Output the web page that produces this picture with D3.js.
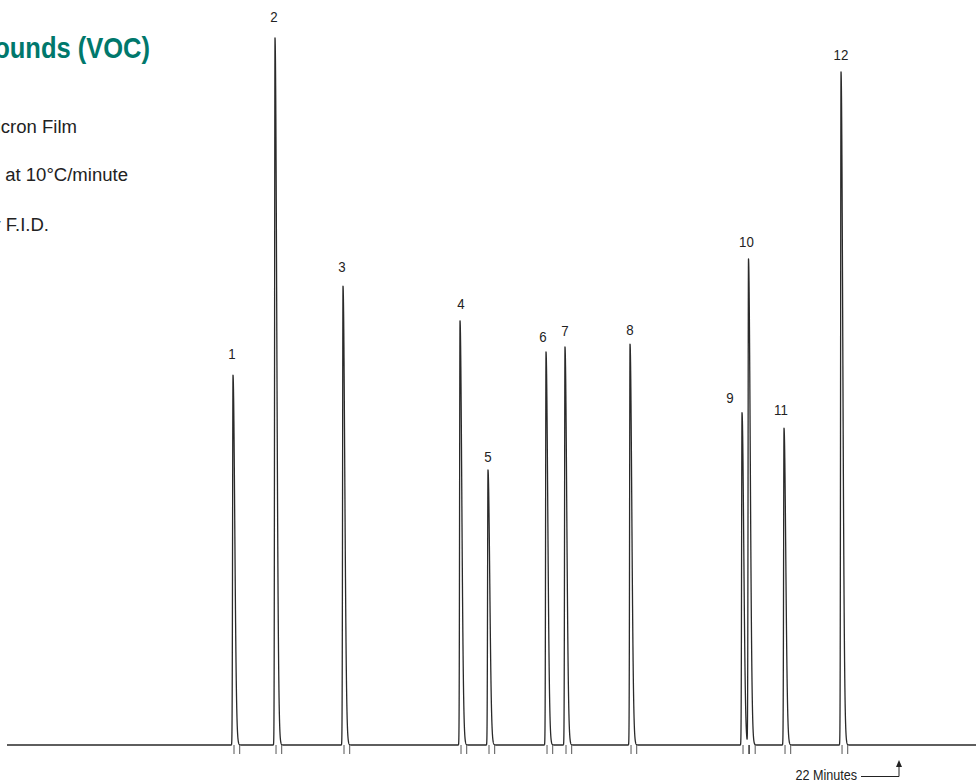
<!DOCTYPE html>
<html>
<head>
<meta charset="utf-8">
<script src="https://cdn.jsdelivr.net/npm/d3@7"></script>
<style>
  html, body { margin: 0; padding: 0; background: #fff; }
  svg { display: block; }
  .narrow { font-family: "Liberation Sans Narrow", "Arial Narrow", "Liberation Sans", Arial, sans-serif; }
</style>
</head>
<body>
<svg id="chart" width="976" height="783"></svg>
<script>
// ---- data ----
const peakNumbers    = ["1","2","3","4","5","6","7","8","9","10","11","12"];
const retentionTimes = [5.574, 6.610, 8.287, 11.173, 11.863, 13.294, 13.762, 15.366, 18.128, 18.288, 19.164, 20.570]; // minutes
const peakHeights    = [52.3, 100, 64.9, 60.0, 38.9, 55.6, 56.3, 56.7, 47.0, 68.7, 44.8, 95.2];             // relative response
const timeMarker     = 22;            // "22 Minutes" arrow
const runEnd         = 24;
const titleText      = "Volatile Organic Compounds (VOC)";
const conditionLines = ["0.53mm ID x 30 Meter, 1.0 Micron Film", "35°C (5 min.) to 220°C at 10°C/minute", "Helium Carrier F.I.D."];

// ---- layout ----
const svg = d3.select("#chart");
const x = d3.scaleLinear().domain([0, timeMarker]).range([7, 899]);
const y = d3.scaleLinear().domain([0, 100]).range([745, 38]);

// helper: horizontally condensed text
function ctext(px, py, str, opts) {
  const g = svg.append("g").attr("transform", `translate(${px},${py}) scale(${opts.sx || 1},1)`);
  return g.append("text")
    .attr("class", "narrow")
    .attr("x", 0).attr("y", 0)
    .attr("text-anchor", opts.anchor || "start")
    .attr("font-size", opts.size)
    .attr("font-weight", opts.weight || "normal")
    .attr("fill", opts.fill || "#222")
    .text(str);
}

// peak shape model (asymmetric gaussian, narrow leading edge, slight tail)
const sigL = 0.010, sigR = 0.043;
function signal(t) {
  let s = 0;
  for (let i = 0; i < retentionTimes.length; i++) {
    const d = t - retentionTimes[i];
    const sg = d < 0 ? sigL : sigR;
    if (Math.abs(d) < 12 * sg) s += peakHeights[i] * Math.exp(-0.5 * (d / sg) * (d / sg));
  }
  return s;
}
let ts = d3.range(0, runEnd + 0.001, 0.05);
retentionTimes.forEach(rt => { ts = ts.concat(d3.range(rt - 0.08, rt + 0.4, 0.0015)); ts.push(rt); });
ts = ts.filter(t => t >= 0 && t <= runEnd).sort((a, b) => a - b);
const pts = ts.map(t => [t, signal(t)]);

const line = d3.line().x(d => x(d[0])).y(d => y(d[1]));
svg.append("path")
  .attr("d", line(pts))
  .attr("fill", "none")
  .attr("stroke", "#2a2a2a")
  .attr("stroke-width", 1.3)
  .attr("stroke-linejoin", "round");

// integration tick marks below baseline
const tickOff = [0.025, 0.165];
retentionTimes.forEach(rt => {
  tickOff.forEach(o => {
    svg.append("line")
      .attr("x1", x(rt + o)).attr("x2", x(rt + o))
      .attr("y1", y(0)).attr("y2", y(0) + 9)
      .attr("stroke", "#555").attr("stroke-width", 1);
  });
});

// peak labels
const labelNudge = { "1": [-1, 16], "2": [-1, 16], "3": [-1, 14], "4": [1, 12], "5": [0, 8], "6": [-3, 10],
                     "7": [0, 11], "8": [0, 9], "9": [-12, 10], "10": [-2, 12], "11": [-3, 13], "12": [0, 12] };
peakNumbers.forEach((d, i) => {
  ctext(x(retentionTimes[i]) + labelNudge[d][0], y(peakHeights[i]) - labelNudge[d][1], d,
        { size: 14, anchor: "middle", fill: "#222", sx: 0.95 });
});

// time marker
const mx = x(timeMarker);
svg.append("path")
  .attr("d", `M${mx - 38},776.5 H${mx} V766`)
  .attr("fill", "none").attr("stroke", "#222").attr("stroke-width", 1);
svg.append("path")
  .attr("d", `M${mx - 3},767 L${mx},760 L${mx + 3},767 Z`)
  .attr("fill", "#222");
ctext(mx - 42, 780, timeMarker + " Minutes", { size: 14, anchor: "end", sx: 0.9 });

// title and conditions (cropped at the left edge as in the reference)
ctext(150, 58, titleText, { size: 29, anchor: "end", weight: "bold", fill: "#00786c", sx: 0.88 });
const condEnds = [77, 128, 49];
const condY = [133, 181, 231];
conditionLines.forEach((s, i) => {
  ctext(condEnds[i], condY[i], s, { size: 18, anchor: "end", sx: 1.03 });
});
</script>
</body>
</html>
